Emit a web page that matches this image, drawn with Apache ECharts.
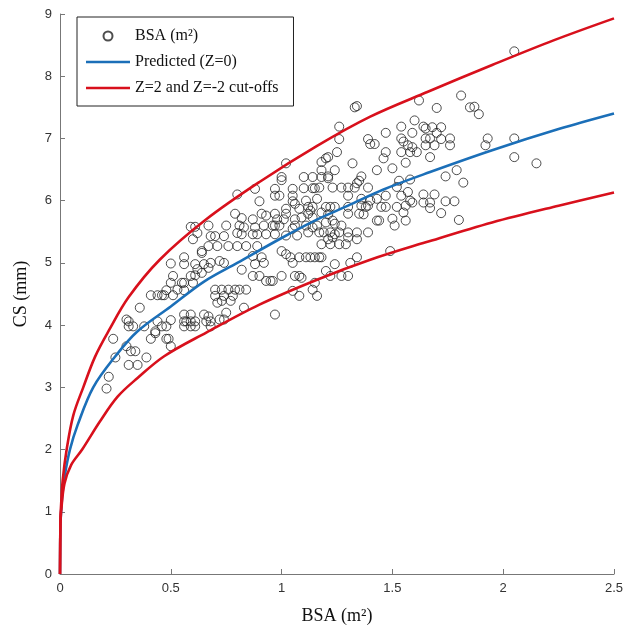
<!DOCTYPE html>
<html lang="en">
<head>
  <meta charset="UTF-8">
  <title>CS vs BSA</title>
  <script src="https://cdn.jsdelivr.net/npm/echarts@6.0.0/dist/echarts.min.js"></script>
  <style>
    html, body {
      margin: 0;
      padding: 0;
      background: #fff;
    }

    #main {
      width: 635px;
      height: 632px;
    }
  </style>
</head>
<body>
  <div id="main"></div>

  <script type="text/javascript">
    // measured points [BSA, CS]
    var observed = [
      [0.59,5.58],[0.61,5.58],[0.62,5.48],[0.60,5.38],[0.64,5.19],[0.64,5.16],[0.50,4.99],[0.56,5.09],
      [0.56,4.98],[0.61,4.98],[0.65,4.98],[0.62,4.90],[0.67,4.92],[0.51,4.79],[0.59,4.79],[0.61,4.80],
      [0.64,4.84],[0.50,4.68],[0.55,4.68],[0.56,4.68],[0.60,4.68],[0.53,4.57],[0.56,4.56],[0.48,4.56],
      [0.41,4.48],[0.44,4.48],[0.46,4.48],[0.47,4.48],[0.51,4.48],
      [0.36,4.28],[0.30,4.09],[0.31,4.06],[0.31,3.98],[0.33,3.98],[0.38,3.98],[0.44,4.06],[0.50,4.08],
      [0.48,3.98],[0.46,3.98],[0.43,3.90],[0.43,3.87],[0.41,3.78],[0.48,3.78],[0.49,3.78],[0.50,3.66],
      [0.56,4.17],[0.59,4.17],[0.65,4.17],[0.56,4.06],[0.57,4.06],[0.59,4.06],[0.61,4.06],[0.56,3.98],
      [0.59,3.98],[0.61,3.98],[0.66,4.06],[0.24,3.78],[0.30,3.66],[0.32,3.58],[0.34,3.58],[0.25,3.48],
      [0.39,3.48],[0.31,3.36],[0.35,3.36],[0.22,3.17],[0.21,2.98],
      [1.02,6.60],[1.00,6.38],[1.00,6.33],[1.10,6.38],[1.14,6.38],[0.88,6.19],[0.80,6.10],[0.97,6.19],
      [1.05,6.19],[1.10,6.20],[1.14,6.20],[1.15,6.20],[0.97,6.08],[0.99,6.08],[0.90,5.99],[1.05,6.08],
      [1.05,5.99],[1.06,5.95],[1.11,6.00],[1.12,5.90],[1.16,6.03],[1.02,5.87],[1.08,5.87],[1.14,5.90],
      [1.13,5.84],[0.79,5.79],[0.82,5.72],[0.87,5.70],[0.91,5.79],[0.93,5.76],[0.97,5.79],[0.98,5.70],
      [1.02,5.79],[1.01,5.70],[1.06,5.70],[1.09,5.73],[1.12,5.79],[1.14,5.73],[0.67,5.60],[0.75,5.60],
      [0.81,5.60],[0.83,5.57],[0.88,5.57],[0.92,5.60],[0.96,5.60],[0.97,5.60],[0.99,5.60],[1.05,5.55],
      [1.06,5.60],[1.11,5.60],[1.12,5.49],[1.14,5.57],[0.68,5.43],[0.70,5.43],[0.74,5.43],[0.80,5.48],
      [0.82,5.46],[0.87,5.46],[0.89,5.46],[0.93,5.46],[0.97,5.46],[1.02,5.44],[1.07,5.44],[0.67,5.27],
      [0.71,5.27],[0.76,5.27],[0.80,5.27],[0.84,5.27],[0.89,5.27],
      [0.87,5.11],[0.91,5.09],[1.00,5.19],[1.02,5.14],[1.08,5.09],[1.11,5.09],[1.13,5.09],[1.15,5.09],
      [1.04,5.09],[1.05,5.00],[0.68,5.00],[0.72,5.03],[0.74,5.00],[0.88,4.98],[0.92,5.00],[0.82,4.89],
      [0.87,4.79],[0.90,4.79],[0.93,4.71],[0.95,4.71],[0.96,4.71],[1.00,4.79],[1.06,4.79],[1.08,4.79],
      [1.09,4.76],[1.15,4.68],[1.14,4.57],[1.08,4.47],[1.05,4.55],[0.70,4.57],[0.73,4.57],[0.76,4.57],
      [0.79,4.57],[0.81,4.57],[0.84,4.57],[0.70,4.47],[0.74,4.47],[0.78,4.47],[0.73,4.39],[0.77,4.39],
      [0.71,4.36],[0.83,4.28],[0.75,4.20],[0.67,4.14],[0.68,4.06],[0.74,4.09],[0.72,4.09],[0.97,4.17],
      [0.68,3.98],
      [1.33,7.50],[1.34,7.52],[1.62,7.61],[1.26,7.19],[1.26,6.99],[1.47,7.09],[1.54,7.19],[1.60,7.29],
      [1.64,7.19],[1.65,7.16],[1.59,7.09],[1.39,6.99],[1.40,6.91],[1.42,6.91],[1.54,7.00],[1.55,6.95],
      [1.65,7.00],[1.67,7.00],[1.57,6.89],[1.59,6.86],[1.65,6.89],[1.47,6.78],[1.54,6.78],[1.58,6.78],
      [1.61,6.78],[1.25,6.78],[1.21,6.70],[1.20,6.68],[1.46,6.68],[1.18,6.62],[1.56,6.61],[1.32,6.60],
      [1.18,6.49],[1.24,6.49],[1.43,6.49],[1.50,6.52],[1.18,6.38],[1.21,6.39],[1.21,6.36],[1.36,6.39],
      [1.35,6.32],[1.34,6.28],[1.53,6.32],[1.58,6.34],[1.17,6.21],[1.23,6.21],[1.27,6.21],[1.30,6.21],
      [1.33,6.21],[1.39,6.21],[1.52,6.22],
      [1.30,6.08],[1.36,6.03],[1.40,6.00],[1.43,6.03],[1.47,6.08],[1.54,6.08],[1.57,6.14],[1.58,6.00],
      [1.59,5.97],[1.64,6.10],[1.64,5.97],[1.67,5.97],[1.20,5.90],[1.22,5.90],[1.24,5.90],[1.30,5.90],
      [1.36,5.92],[1.38,5.90],[1.39,5.92],[1.45,5.90],[1.47,5.90],[1.52,5.90],[1.56,5.92],[1.55,5.81],
      [1.18,5.81],[1.21,5.78],[1.30,5.79],[1.35,5.79],[1.37,5.78],[1.43,5.68],[1.44,5.68],[1.50,5.71],
      [1.51,5.60],[1.56,5.68],[1.20,5.65],[1.23,5.68],[1.24,5.63],[1.27,5.60],[1.16,5.60],[1.17,5.49],
      [1.19,5.49],[1.22,5.49],[1.24,5.46],[1.26,5.49],[1.30,5.49],[1.34,5.49],[1.39,5.49],[1.21,5.38],
      [1.23,5.41],[1.30,5.41],[1.34,5.38],[1.18,5.30],[1.22,5.30],[1.26,5.30],[1.29,5.30],[1.49,5.19],
      [1.17,5.09],[1.18,5.09],[1.24,4.98],[1.31,5.00],[1.34,5.09],[1.20,4.87],[1.22,4.79],[1.27,4.79],
      [1.30,4.79],[1.16,4.47],
      [2.05,8.40],[1.81,7.69],[1.70,7.49],[1.85,7.50],[1.87,7.51],[1.89,7.39],[1.68,7.18],[1.72,7.18],
      [1.70,7.09],[1.72,6.99],[1.76,7.00],[1.69,6.89],[1.76,6.89],[1.93,7.00],[1.92,6.89],[2.05,7.00],
      [1.67,6.70],[2.05,6.70],[2.15,6.60],[1.74,6.39],[1.79,6.49],[1.82,6.29],[1.69,6.10],[1.74,5.99],
      [1.78,5.99],[1.67,5.88],[1.72,5.80],[1.80,5.69]
    ];

    // curves [BSA, CS]
    var predicted = [
      [0,0],[0.002,0.8],[0.005,1.0],[0.01,1.25],[0.02,1.55],[0.045,2.0],[0.08,2.4],[0.15,3.0],
      [0.25,3.5],[0.35,3.9],[0.5,4.3],[0.65,4.7],[0.8,5.0],[1.0,5.4],[1.15,5.68],[1.3,5.92],
      [1.46,6.18],[1.67,6.46],[1.95,6.81],[2.25,7.15],[2.5,7.4]
    ];
    var upperCut = [
      [0,0],[0.002,0.9],[0.004,1.05],[0.012,1.5],[0.03,2.0],[0.06,2.55],[0.105,3.0],[0.158,3.49],
      [0.22,3.91],[0.31,4.45],[0.45,5.05],[0.66,5.7],[0.9,6.3],[1.16,6.88],[1.4,7.35],[1.66,7.75],
      [1.95,8.18],[2.23,8.58],[2.5,8.93]
    ];
    var lowerCut = [
      [0,0],[0.002,0.8],[0.005,1.0],[0.02,1.45],[0.05,1.75],[0.1,2.0],[0.18,2.45],[0.26,2.85],
      [0.35,3.15],[0.47,3.5],[0.66,3.88],[0.9,4.33],[1.16,4.73],[1.4,5.05],[1.65,5.33],[1.95,5.65],
      [2.25,5.92],[2.5,6.13]
    ];

    var xRange = [0, 2.5];
    var yRange = [0, 9];

    var lineIcon = 'path://M0,0H44V2.6H0Z';
    var serif = '"Liberation Serif", "DejaVu Serif", serif';
    var sans = '"Liberation Sans", Arial, sans-serif';

    var chart = echarts.init(document.getElementById('main'));

    var axisCommon = {
      axisLine: { lineStyle: { color: '#777', width: 1 } },
      axisTick: { inside: true, length: 5, lineStyle: { color: '#777' } },
      axisLabel: { color: '#333', fontSize: 13, fontFamily: sans },
      splitLine: { show: false },
      nameLocation: 'middle',
      nameTextStyle: { color: '#111', fontSize: 18, fontFamily: serif }
    };

    function curve(name, data, color) {
      return {
        name: name,
        type: 'line',
        data: data,
        smooth: 0.35,
        showSymbol: false,
        symbol: 'none',
        itemStyle: { color: color },
        lineStyle: { color: color, width: 2.6 },
        z: 3
      };
    }

    var option = {
      animation: false,
      backgroundColor: '#fff',
      grid: { left: 60, right: 21, top: 14, bottom: 58 },
      legend: {
        orient: 'vertical',
        left: 77,
        top: 17,
        padding: [11, 15, 10, 9],
        itemGap: 10,
        itemWidth: 44,
        itemHeight: 9,
        borderColor: '#222',
        borderWidth: 1,
        backgroundColor: '#fff',
        textStyle: { color: '#111', fontSize: 16, fontFamily: serif },
        data: [
          { name: 'BSA (m²)', icon: 'circle' },
          { name: 'Predicted (Z=0)', icon: lineIcon },
          { name: 'Z=2 and Z=-2 cut-offs', icon: lineIcon }
        ]
      },
      xAxis: Object.assign({}, axisCommon, {
        type: 'value',
        min: xRange[0],
        max: xRange[1],
        interval: 0.5,
        name: 'BSA (m²)',
        nameGap: 33
      }),
      yAxis: Object.assign({}, axisCommon, {
        type: 'value',
        min: yRange[0],
        max: yRange[1],
        interval: 1,
        name: 'CS (mm)',
        nameGap: 30
      }),
      series: [
        {
          name: 'BSA (m²)',
          type: 'scatter',
          data: observed,
          symbol: 'circle',
          symbolSize: 9,
          itemStyle: { color: 'rgba(255,255,255,0)', borderColor: '#222', borderWidth: 1 },
          z: 2
        },
        curve('Predicted (Z=0)', predicted, '#1b6fb8'),
        curve('Z=2 and Z=-2 cut-offs', upperCut, '#d8101c'),
        curve('Z=2 and Z=-2 cut-offs', lowerCut, '#d8101c')
      ]
    };

    chart.setOption(option);
  </script>
</body>
</html>
